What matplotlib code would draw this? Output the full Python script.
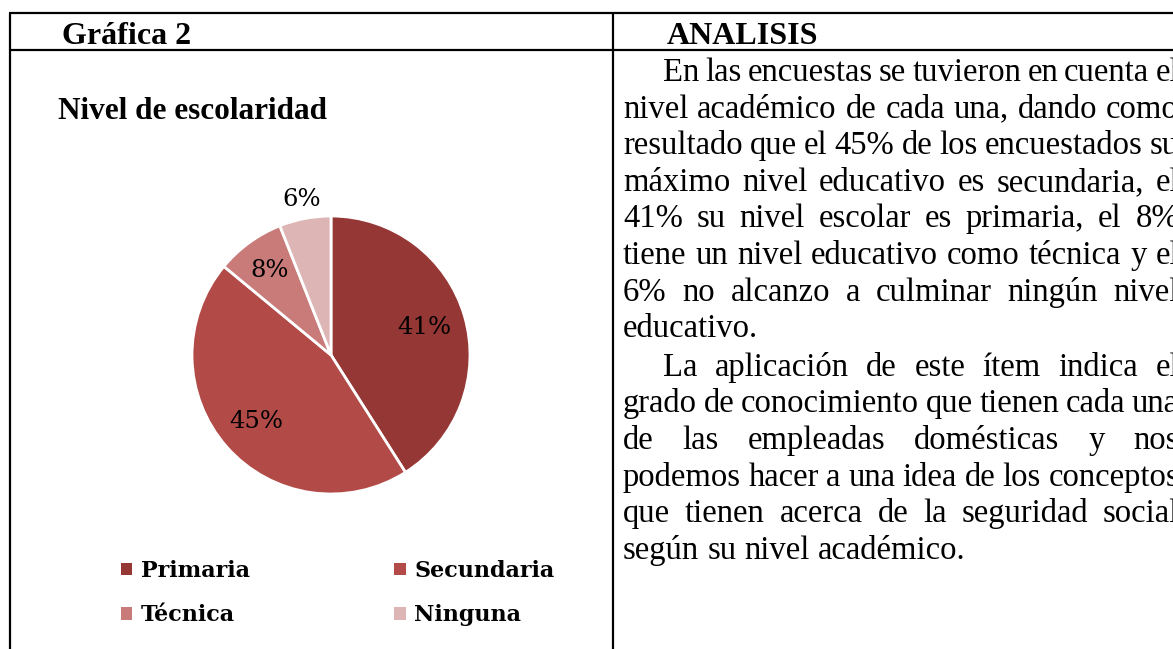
import numpy as np
import matplotlib.pyplot as plt
from matplotlib.patches import Patch

# chart data
categories = ['Primaria', 'Secundaria', 'Técnica', 'Ninguna']
percentages = [41, 45, 8, 6]
colors = ['#953735', '#B24B48', '#C87B79', '#DEB5B5']

chart_label = 'Gráfica 2'
chart_title = 'Nivel de escolaridad'
analysis_heading = 'ANALISIS'
paragraph_1 = [
    'En las encuestas se tuvieron en cuenta el',
    'nivel académico de cada una, dando como',
    'resultado que el 45% de los encuestados su',
    'máximo nivel educativo es secundaria, el',
    '41% su nivel escolar es primaria, el 8%',
    'tiene un nivel educativo como técnica y el',
    '6% no alcanzo a culminar ningún nivel',
    'educativo.',
]
paragraph_2 = [
    'La aplicación de este ítem indica el',
    'grado de conocimiento que tienen cada una',
    'de las empleadas domésticas y nos',
    'podemos hacer a una idea de los conceptos',
    'que tienen acerca de la seguridad social',
    'según su nivel académico.',
]

W, H = 1173, 649
SERIF = 'Liberation Serif'
BODY_SIZE = 23.5

fig = plt.figure(figsize=(W / 100, H / 100), dpi=100)
fig.patch.set_facecolor('white')

# page axes in pixel units (y down)
page = fig.add_axes([0, 0, 1, 1])
page.set_xlim(0, W)
page.set_ylim(H, 0)
page.axis('off')

# table borders
border = dict(color='black', lw=1.6, solid_capstyle='butt')
page.plot([9, W + 5], [13, 13], **border)
page.plot([9, W + 5], [49.5, 49.5], **border)
page.plot([10, 10], [13, H + 5], **border)
page.plot([613, 613], [13, H + 5], **border)

page.text(62, 44, chart_label, family=SERIF, fontsize=23, fontweight='bold', va='baseline')
page.text(667, 44, analysis_heading, family=SERIF, fontsize=23, fontweight='bold', va='baseline')
page.text(58, 119, chart_title, family=SERIF, fontsize=22.5, fontweight='bold', va='baseline')

# justified analysis text
renderer = fig.canvas.get_renderer()


def write_line(text, y, x0, x1, justify):
    words = text.split()
    items = [page.text(0, y, w, family=SERIF, fontsize=BODY_SIZE, va='baseline') for w in words]
    widths = [t.get_window_extent(renderer).width for t in items]
    if justify and len(words) > 1:
        gap = (x1 - x0 - sum(widths)) / (len(words) - 1)
    else:
        gap = BODY_SIZE / 0.72 * 0.25
    x = x0
    for t, w in zip(items, widths):
        t.set_x(x)
        x += w + gap


left, right, indent = 623, 1179, 40
line_step = 36.6
y = 81
for para in [paragraph_1, paragraph_2]:
    for i, line in enumerate(para):
        x0 = left + indent if i == 0 else left
        write_line(line, y, x0, right, justify=(i < len(para) - 1))
        y += line_step
    y += 2

# pie chart
cx, cy, r = 331, 355, 139
pie_ax = fig.add_axes([(cx - r) / W, (H - cy - r) / H, 2 * r / W, 2 * r / H])
wedges, _, autotexts = pie_ax.pie(
    percentages, colors=colors, startangle=90, counterclock=False,
    autopct=lambda p: f'{p:.0f}%', pctdistance=0.72,
    wedgeprops=dict(edgecolor='white', linewidth=2),
    textprops=dict(family='DejaVu Serif', fontsize=17.5, color='black'))
pie_ax.set_xlim(-1, 1)
pie_ax.set_ylim(-1, 1)

# move labels radially (Excel best-fit look)
label_dist = [0.70, 0.72, 0.75, 1.14]
for wedge, txt, d in zip(wedges, autotexts, label_dist):
    ang = np.deg2rad((wedge.theta1 + wedge.theta2) / 2)
    txt.set_position((d * np.cos(ang), d * np.sin(ang)))

# legend, row-wise order
order = [0, 2, 1, 3]
handles = [Patch(facecolor=colors[i], edgecolor='none') for i in order]
labels = [categories[i] for i in order]
fig.legend(handles, labels, ncol=2, frameon=False,
           loc='upper left', bbox_to_anchor=(121 / W, 1 - 560 / H),
           prop=dict(family='DejaVu Serif', weight='bold', size=16),
           handlelength=0.5, handleheight=0.5, handletextpad=0.4,
           columnspacing=6.5, labelspacing=1.0, borderpad=0, borderaxespad=0)

fig.savefig('out.png', dpi=100, facecolor='white')
